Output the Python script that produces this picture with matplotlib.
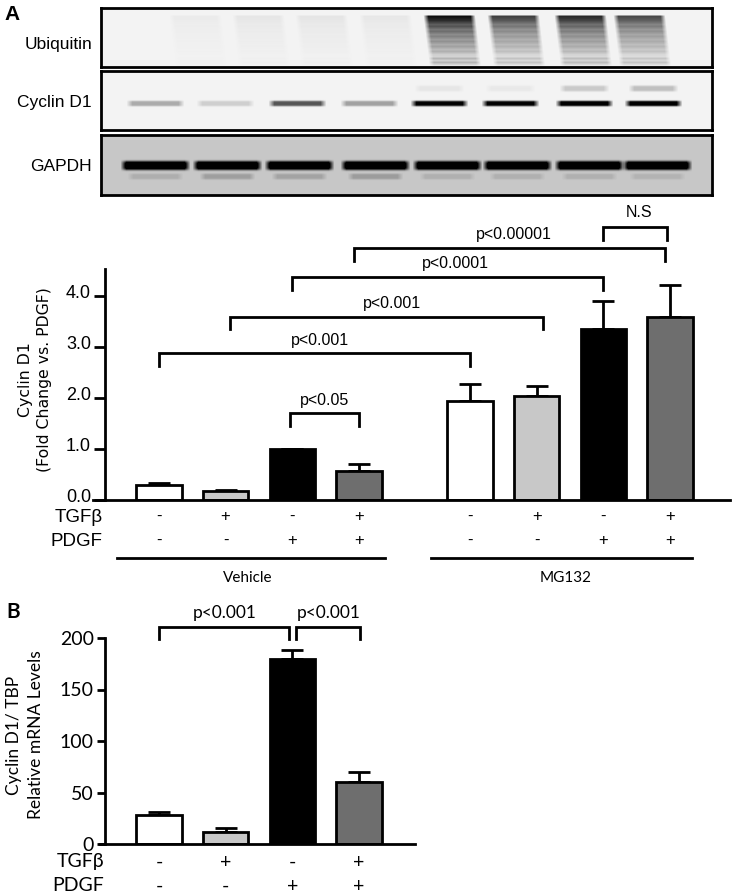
#!/usr/bin/env python3
# Western blot panels + cyclin D1 bar charts
import numpy as np
import matplotlib
matplotlib.use("Agg")
import matplotlib.pyplot as plt
from matplotlib.transforms import ScaledTranslation

W, H = 732, 896

# panel A bars
pos_a = [0, 1, 2, 3, 4.67, 5.67, 6.67, 7.67]
val_a = [0.30, 0.17, 1.00, 0.57, 1.95, 2.04, 3.35, 3.58]
err_a = [0.03, 0.02, 0.0, 0.13, 0.32, 0.19, 0.55, 0.64]
tgf_a = ["-", "+", "-", "+", "-", "+", "-", "+"]
pdgf_a = ["-", "-", "+", "+", "-", "-", "+", "+"]
ticks_a = [0, 1, 2, 3, 4]
tick_labels_a = ["0.0", "1.0", "2.0", "3.0", "4.0"]
# x0, x1, top, bottom of tips, label, label x, label y
brackets_a = [
    (0, 4.67, 2.88, 2.63, "p<0.001", 2.42, 3.12),
    (1.07, 5.76, 3.59, 3.35, "p<0.001", 3.5, 3.85),
    (2.0, 6.67, 4.37, 4.12, "p<0.0001", 4.45, 4.64),
    (2.93, 7.6, 4.94, 4.69, "p<0.00001", 5.33, 5.2),
    (6.67, 7.63, 5.35, 5.1, "N.S", 7.2, 5.63),
    (1.96, 3.0, 1.7, 1.45, "p<0.05", 2.48, 1.96),
]

# panel B bars
pos_b = [0, 1, 2, 3]
val_b = [28, 12, 180, 60]
err_b = [3, 4, 8, 10]
tgf_b = ["-", "+", "-", "+"]
pdgf_b = ["-", "-", "+", "+"]
ticks_b = [0, 50, 100, 150, 200]
brackets_b = [
    (0, 1.95, 211, 199, "p<0.001", 0.98, 224),
    (2.05, 3.02, 211, 199, "p<0.001", 2.55, 224),
]

bar_colors = ["#ffffff", "#c8c8c8", "#000000", "#6e6e6e"]

# blots, pixel x of lanes and darkness of each band
cyclin_lanes = [155, 225, 297, 369, 439, 510, 584, 653]
cyclin_dark = [0.28, 0.14, 0.62, 0.32, 0.95, 0.95, 1.0, 1.0]
cyclin_upper = [0, 0, 0, 0, 0.05, 0.04, 0.16, 0.20]
gapdh_lanes = [155, 227, 299, 375, 447, 517, 589, 657]
gapdh_dark = [1.0, 1.0, 1.0, 1.0, 0.98, 0.98, 1.0, 1.0]
gapdh_lower = [0.10, 0.16, 0.14, 0.17, 0.09, 0.09, 0.09, 0.08]
ubi_lanes = [194, 257, 320, 384, 448, 512, 579, 638]
ubi_dark = [0.035, 0.055, 0.06, 0.05, 1.0, 0.78, 0.88, 0.74]
# darkness down the smear, rows counted from the top of the box
ubi_rows = [6, 8, 12, 16, 18, 21, 23, 26, 28, 31, 33, 36, 38, 41, 43, 46, 48, 50, 52, 54, 56, 58]
ubi_prof = [0, .90, .78, .58, .62, .48, .52, .40, .44, .34, .38, .28, .32, .22, .26, .14, .12, .24, .14, .24, .12, 0]


def px_axes(x0, y0, x1, y1):
    return plt.gcf().add_axes([x0 / W, 1 - y1 / H, (x1 - x0) / W, (y1 - y0) / H])


def ftext(x, y, s, **kw):
    fig.text(x / W, 1 - y / H, s, **kw)


def soft_band(xx, yy, cx, cy, hw, hh):
    a = np.clip((hw - np.abs(xx - cx)) / 6.0, 0, 1)
    b = np.exp(-((yy - cy) / hh) ** 4)
    return a * b


def show_blot(y0, y1, img):
    ax = px_axes(101, y0, 712, y1)
    ax.imshow(np.clip(img, 0, 1), cmap="gray", vmin=0, vmax=1, aspect="auto", interpolation="bilinear")
    ax.set_xticks([])
    ax.set_yticks([])
    for s in ax.spines.values():
        s.set_linewidth(2)


def blot_grid(y0, y1):
    xs = np.arange(101, 712)
    ys = np.arange(y0, y1)
    return np.meshgrid(xs, ys)


def draw_bars(ax, pos, val, err, colors):
    ax.bar(pos, val, width=0.68, color=colors, edgecolor="black", linewidth=2, zorder=2)
    ax.errorbar(pos, val, yerr=[np.zeros(len(err)), err], fmt="none", ecolor="black",
                elinewidth=2, capsize=8, capthick=2, zorder=1)


def draw_brackets(ax, brackets, **kw):
    for x0, x1, top, low, label, lx, ly in brackets:
        ax.plot([x0, x0, x1, x1], [low, top, top, low], color="black", lw=2,
                clip_on=False, solid_joinstyle="miter")
        ax.text(lx, ly, label, ha="center", va="center", **kw)


def style_axes(ax, xlim, ylim, ticks, labels, font, size, ticklen):
    ax.set_xlim(xlim)
    ax.set_ylim(ylim)
    ax.spines["top"].set_visible(False)
    ax.spines["right"].set_visible(False)
    ax.spines["left"].set_position(("data", -0.81))
    ax.spines["left"].set_linewidth(2)
    ax.spines["bottom"].set_linewidth(2)
    ax.set_xticks([])
    ax.set_yticks(ticks)
    ax.set_yticklabels(labels, family=font, fontsize=size)
    ax.tick_params(axis="y", length=ticklen, width=2, pad=2)
    ax.patch.set_alpha(0)


fig = plt.figure(figsize=(W / 100, H / 100), dpi=100)

# ubiquitin blot
xx, yy = blot_grid(8, 67)
img = np.full(xx.shape, 0.95)
smear = np.interp(yy - 8, ubi_rows, ubi_prof)
for cx, d in zip(ubi_lanes, ubi_dark):
    skew = (yy - 8) * 0.12
    img -= d * smear * np.clip((26 - np.abs(xx - cx - skew)) / 5.0, 0, 1)
show_blot(8, 67, img)

# cyclin D1 blot
xx, yy = blot_grid(71, 130)
img = np.full(xx.shape, 0.95)
for cx, d, u in zip(cyclin_lanes, cyclin_dark, cyclin_upper):
    img -= d * soft_band(xx, yy, cx, 103, 29, 2.8)
    img -= u * soft_band(xx, yy, cx, 88, 25, 3.0)
show_blot(71, 130, img)

# GAPDH blot
xx, yy = blot_grid(135, 195)
img = np.full(xx.shape, 0.78)
for cx, d, low in zip(gapdh_lanes, gapdh_dark, gapdh_lower):
    img -= d * soft_band(xx, yy, cx, 165, 35, 4.5)
    img -= low * soft_band(xx, yy, cx, 176, 28, 3.0)
show_blot(135, 195, img)

ftext(12, 14, "A", family="Liberation Sans", fontsize=15, fontweight="bold", ha="center", va="center")
ftext(92, 44, "Ubiquitin", family="Liberation Sans", fontsize=12.5, ha="right", va="center")
ftext(92, 103, "Cyclin D1", family="Liberation Sans", fontsize=12.5, ha="right", va="center")
ftext(92, 166, "GAPDH", family="Liberation Sans", fontsize=12.5, ha="right", va="center")

# panel A chart
ax = px_axes(93, 269, 730, 500)
draw_bars(ax, pos_a, val_a, err_a, bar_colors * 2)
style_axes(ax, (-0.99, 8.57), (0, 4.53), ticks_a, tick_labels_a, "Liberation Sans", 13, 8)
# tick labels sit a little above their ticks in this panel
for lab in ax.get_yticklabels():
    lab.set_transform(lab.get_transform() + ScaledTranslation(0, 3 / 72, fig.dpi_scale_trans))
draw_brackets(ax, brackets_a, family="Liberation Sans", fontsize=11.5)
for p, t, g in zip(pos_a, tgf_a, pdgf_a):
    ax.text(p, -0.32, t, ha="center", va="center", family="Liberation Sans", fontsize=12)
    ax.text(p, -0.80, g, ha="center", va="center", family="Liberation Sans", fontsize=12)
ax.plot([-0.63, 3.39], [-1.14, -1.14], color="black", lw=2, clip_on=False)
ax.plot([4.09, 8.0], [-1.14, -1.14], color="black", lw=2, clip_on=False)
ax.text(1.33, -1.52, "Vehicle", ha="center", va="center", family="Lato", fontsize=11)
ax.text(6.1, -1.52, "MG132", ha="center", va="center", family="Lato", fontsize=11)
ftext(103, 518, "TGFβ", family="Liberation Sans", fontsize=13.5, ha="right", va="center")
ftext(103, 542, "PDGF", family="Liberation Sans", fontsize=13.5, ha="right", va="center")
ftext(35, 380, "Cyclin D1\n(Fold Change vs. PDGF)", family="DejaVu Sans", fontsize=11.3,
      rotation=90, ha="center", va="center", linespacing=1.3, multialignment="center")

# panel B chart
ax = px_axes(100, 638, 415, 844)
draw_bars(ax, pos_b, val_b, err_b, bar_colors)
style_axes(ax, (-0.886, 3.84), (0, 200), ticks_b, [str(t) for t in ticks_b], "Lato", 14, 6)
draw_brackets(ax, brackets_b, family="Lato", fontsize=12.5)
for p, t, g in zip(pos_b, tgf_b, pdgf_b):
    ax.text(p, -18, t, ha="center", va="center", family="Lato", fontsize=14)
    ax.text(p, -41, g, ha="center", va="center", family="Lato", fontsize=14)
ftext(104, 861, "TGFβ", family="Lato", fontsize=14, ha="right", va="center")
ftext(104, 885, "PDGF", family="Lato", fontsize=14, ha="right", va="center")
ftext(13, 612, "B", family="Lato", fontsize=15, fontweight="bold", ha="center", va="center")
ftext(25, 735, "Cyclin D1/ TBP\nRelative mRNA Levels", family="Lato", fontsize=12.5, rotation=90,
      ha="center", va="center", linespacing=1.45, multialignment="center")

fig.savefig("out.png", dpi=100)
